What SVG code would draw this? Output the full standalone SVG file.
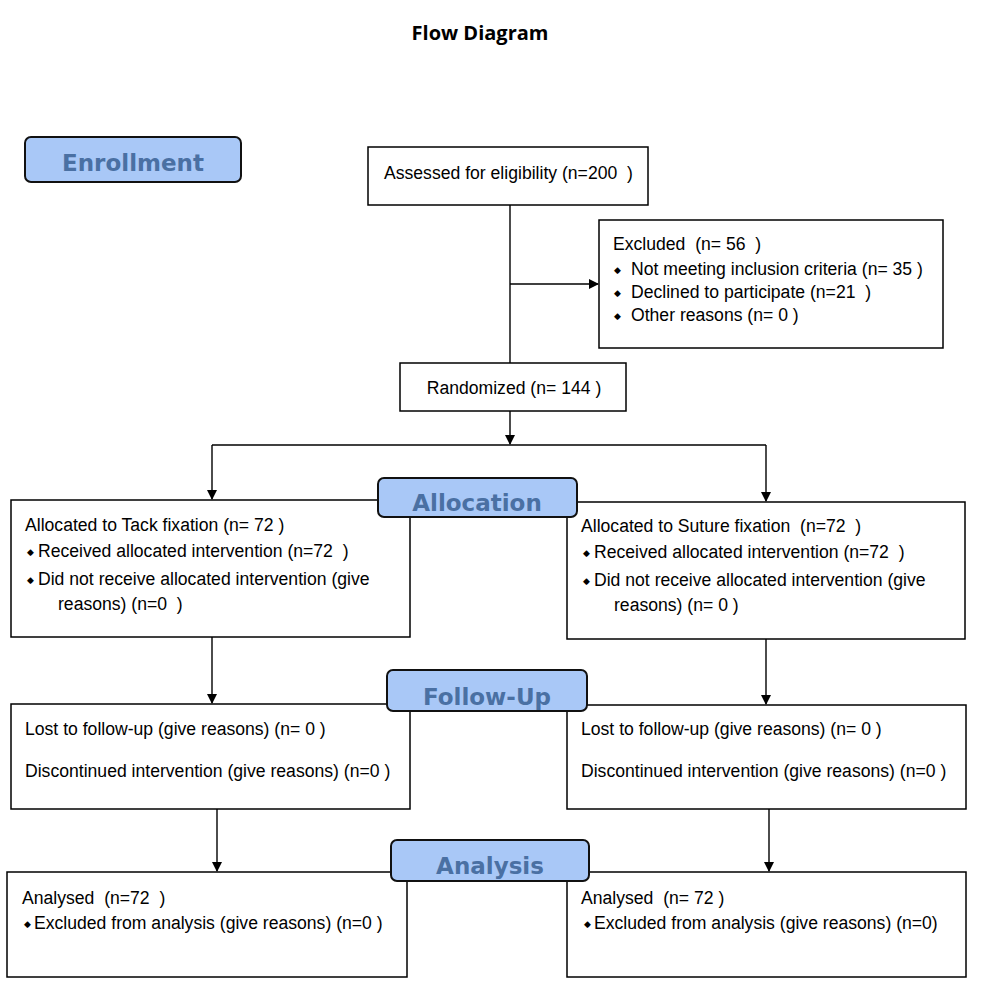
<svg xmlns="http://www.w3.org/2000/svg" width="986" height="1001" viewBox="0 0 986 1001">
<defs>
<marker id="ah" markerWidth="10" markerHeight="10" refX="9" refY="5" orient="auto" markerUnits="userSpaceOnUse">
<path d="M0,0 L10,5 L0,10 Z" fill="#000"/>
</marker>
<style>
.box{fill:#fff;stroke:#000;stroke-width:1.5}
.lab{fill:#a9c8f7;stroke:#111;stroke-width:2}
.lt{font-family:"DejaVu Sans",Verdana,sans-serif;font-weight:bold;font-size:23px;fill:#4a70a3;text-anchor:middle}
.t{font-family:"Liberation Sans",Arial,sans-serif;font-size:17.6px;fill:#000;white-space:pre}
.b{font-family:"Liberation Sans",Arial,sans-serif;font-size:9px;fill:#000}
.ln{stroke:#000;stroke-width:1.4;fill:none}
.title{font-family:"Open Sans","Liberation Sans",sans-serif;font-weight:bold;font-size:20px;text-anchor:middle}
</style>
</defs>
<rect width="986" height="1001" fill="#fff"/>
<text class="title" x="480" y="40">Flow Diagram</text>

<g id="connectors">
<path class="ln" d="M510,205 V363"/>
<path class="ln" d="M510,284 H598" marker-end="url(#ah)"/>
<path class="ln" d="M510,411 V444" marker-end="url(#ah)"/>
<path class="ln" d="M212,445 H766"/>
<path class="ln" d="M212,445 V499" marker-end="url(#ah)"/>
<path class="ln" d="M766,445 V501" marker-end="url(#ah)"/>
<path class="ln" d="M212,637 V703" marker-end="url(#ah)"/>
<path class="ln" d="M766,639 V704" marker-end="url(#ah)"/>
<path class="ln" d="M217,809 V871" marker-end="url(#ah)"/>
<path class="ln" d="M769,809 V871" marker-end="url(#ah)"/>
</g>

<g id="assessed">
<rect class="box" x="368" y="147" width="280" height="58"/>
<text class="t" x="384" y="179" xml:space="preserve">Assessed for eligibility (n=200  )</text>
</g>

<g id="excluded">
<rect class="box" x="599" y="220" width="344" height="128"/>
<text class="t" x="613" y="250" xml:space="preserve">Excluded  (n= 56  )</text>
<text class="b" x="614" y="273">◆</text>
<text class="t" x="631" y="275" xml:space="preserve">Not meeting inclusion criteria (n= 35 )</text>
<text class="b" x="614" y="296">◆</text>
<text class="t" x="631" y="298" xml:space="preserve">Declined to participate (n=21  )</text>
<text class="b" x="614" y="319">◆</text>
<text class="t" x="631" y="321" xml:space="preserve">Other reasons (n= 0 )</text>
</g>

<g id="randomized">
<rect class="box" x="400" y="363" width="226" height="48"/>
<text class="t" x="514" y="394" text-anchor="middle">Randomized (n= 144 )</text>
</g>

<g id="alloc-left">
<rect class="box" x="11" y="500" width="399" height="137"/>
<text class="t" x="25" y="531">Allocated to Tack fixation (n= 72 )</text>
<text class="b" x="27" y="555">◆</text>
<text class="t" x="38" y="557" xml:space="preserve">Received allocated intervention (n=72  )</text>
<text class="b" x="27" y="583">◆</text>
<text class="t" x="38" y="585">Did not receive allocated intervention (give</text>
<text class="t" x="58" y="610" xml:space="preserve">reasons) (n=0  )</text>
</g>

<g id="alloc-right">
<rect class="box" x="567" y="502" width="398" height="137"/>
<text class="t" x="581" y="532" xml:space="preserve">Allocated to Suture fixation  (n=72  )</text>
<text class="b" x="583" y="556">◆</text>
<text class="t" x="594" y="558" xml:space="preserve">Received allocated intervention (n=72  )</text>
<text class="b" x="583" y="584">◆</text>
<text class="t" x="594" y="586">Did not receive allocated intervention (give</text>
<text class="t" x="614" y="611">reasons) (n= 0 )</text>
</g>

<g id="follow-left">
<rect class="box" x="11" y="704" width="399" height="105"/>
<text class="t" x="25" y="735">Lost to follow-up (give reasons) (n= 0 )</text>
<text class="t" x="25" y="777">Discontinued intervention (give reasons) (n=0 )</text>
</g>

<g id="follow-right">
<rect class="box" x="567" y="705" width="399" height="104"/>
<text class="t" x="581" y="735">Lost to follow-up (give reasons) (n= 0 )</text>
<text class="t" x="581" y="777">Discontinued intervention (give reasons) (n=0 )</text>
</g>

<g id="analysis-left">
<rect class="box" x="7" y="872" width="400" height="105"/>
<text class="t" x="22" y="904" xml:space="preserve">Analysed  (n=72  )</text>
<text class="b" x="24" y="927">◆</text>
<text class="t" x="34" y="929">Excluded from analysis (give reasons) (n=0 )</text>
</g>

<g id="analysis-right">
<rect class="box" x="567" y="872" width="399" height="105"/>
<text class="t" x="581" y="904" xml:space="preserve">Analysed  (n= 72 )</text>
<text class="b" x="584" y="927">◆</text>
<text class="t" x="594" y="929">Excluded from analysis (give reasons) (n=0)</text>
</g>

<g id="enrollment">
<rect class="lab" x="25" y="137" width="216" height="45" rx="6"/>
<text class="lt" x="133" y="171">Enrollment</text>
</g>
<g id="allocation">
<rect class="lab" x="378" y="478" width="199" height="39" rx="6"/>
<text class="lt" x="477" y="511">Allocation</text>
</g>
<g id="followup">
<rect class="lab" x="387" y="670" width="200" height="41" rx="6"/>
<text class="lt" x="487" y="705">Follow-Up</text>
</g>
<g id="analysis">
<rect class="lab" x="391" y="840" width="198" height="41" rx="6"/>
<text class="lt" x="490" y="874">Analysis</text>
</g>
</svg>
